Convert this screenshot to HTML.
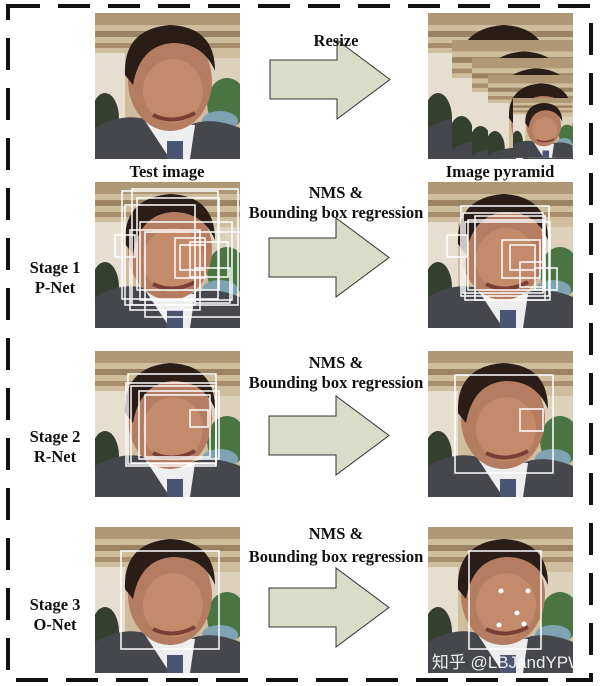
<!DOCTYPE html>
<html><head><meta charset="utf-8"><style>
html,body{margin:0;padding:0;background:#fff}
svg{display:block}
text{font-family:"Liberation Serif",serif;font-weight:bold;font-size:16.5px;fill:#111;text-anchor:middle}
</style></head><body>
<svg width="600" height="686" viewBox="0 0 600 686" xmlns="http://www.w3.org/2000/svg">
<defs>
<clipPath id="pc"><rect x="0" y="0" width="145" height="146"/></clipPath>
<g id="ph">
<g clip-path="url(#pc)">
<rect width="145" height="146" fill="#cfbd9e"/>
<rect width="145" height="12" fill="#b09877"/>
<rect y="18" width="145" height="6" fill="#9a8262"/>
<rect y="30" width="145" height="5" fill="#a88e6c"/>
<rect x="0" y="40" width="30" height="70" fill="#e6dfd0"/>
<rect x="110" y="45" width="35" height="50" fill="#dcd2bc"/>
<ellipse cx="132" cy="90" rx="20" ry="25" fill="#4a7442"/>
<ellipse cx="125" cy="108" rx="18" ry="10" fill="#7fa3b3"/>
<ellipse cx="10" cy="105" rx="14" ry="25" fill="#353f30"/>
<path d="M0 146 L0 115 Q30 98 55 108 L75 146 Z" fill="#45474c"/>
<path d="M145 146 L145 115 Q115 103 95 112 L78 146 Z" fill="#45474c"/>
<path d="M50 108 L75 146 L95 146 L100 112 Z" fill="#eeeeee"/>
<rect x="72" y="128" width="16" height="18" fill="#4b5573"/>
<ellipse cx="75" cy="68" rx="42" ry="50" fill="#b47c60"/>
<ellipse cx="78" cy="78" rx="30" ry="32" fill="#c48a6c"/>
<path d="M30 62 Q28 16 75 12 Q120 14 120 58 Q108 30 78 30 Q45 32 38 72 Z" fill="#2a1d18"/>
<path d="M58 102 Q78 112 100 100" stroke="#7a3e35" stroke-width="4" fill="none"/>
</g>
</g>
<g id="arrow"><path d="M0 20 L67 20 L67 0 L120 39.5 L67 79 L67 59 L0 59 Z" fill="#d9dcc7" stroke="#333" stroke-width="1"/></g>
</defs>
<rect x="8" y="6" width="583" height="674" fill="none" stroke="#111" stroke-width="4" stroke-dasharray="32 18"/>

<!-- row1 -->
<use href="#ph" x="95" y="13"/>
<text x="167" y="177">Test image</text>
<use href="#arrow" x="270" y="40"/>
<text x="336" y="46">Resize</text>
<g>
<svg x="428" y="13" width="145" height="146"><use href="#ph" x="0" y="0"/></svg>
<svg x="452" y="40" width="121" height="118"><use href="#ph" transform="scale(0.95)"/></svg>
<svg x="472" y="58" width="101" height="100"><use href="#ph" transform="scale(0.85)"/></svg>
<svg x="488" y="75" width="85" height="83"><use href="#ph" transform="scale(0.7)"/></svg>
<svg x="513" y="98" width="60" height="60"><use href="#ph" transform="scale(0.41)"/></svg>
</g>
<text x="500" y="177">Image pyramid</text>

<!-- row2 -->
<use href="#ph" x="95" y="182"/>
<g fill="none" stroke="#fff" stroke-width="1.5">
<rect x="122" y="191" width="96" height="108"/><rect x="132" y="189" width="106" height="116"/>
<rect x="137" y="198" width="82" height="92"/><rect x="140" y="222" width="92" height="78"/>
<rect x="130" y="230" width="70" height="80"/><rect x="145" y="232" width="105" height="85"/>
<rect x="115" y="235" width="20" height="22"/><rect x="175" y="238" width="30" height="40"/>
<rect x="180" y="245" width="25" height="25"/><rect x="190" y="242" width="38" height="35"/>
<rect x="195" y="268" width="35" height="35"/><rect x="125" y="205" width="70" height="100"/>
</g>
<text x="336" y="198">NMS &amp;</text>
<text x="336" y="218">Bounding box regression</text>
<use href="#arrow" x="269" y="218"/>
<use href="#ph" x="428" y="182"/>
<g fill="none" stroke="#fff" stroke-width="1.5">
<rect x="461" y="206" width="88" height="90"/><rect x="463" y="213" width="80" height="80"/>
<rect x="468" y="220" width="76" height="70"/><rect x="475" y="216" width="70" height="84"/>
<rect x="447" y="235" width="20" height="22"/><rect x="502" y="240" width="38" height="38"/>
<rect x="510" y="245" width="25" height="25"/><rect x="520" y="262" width="25" height="25"/>
<rect x="535" y="268" width="22" height="22"/><rect x="465" y="222" width="85" height="78"/>
</g>
<text x="55" y="273">Stage 1</text><text x="55" y="293">P-Net</text>

<!-- row3 -->
<use href="#ph" x="95" y="351"/>
<g fill="none" stroke="#fff" stroke-width="1.5">
<rect x="128" y="374" width="88" height="90"/><rect x="126" y="383" width="90" height="83"/>
<rect x="131" y="386" width="85" height="77"/><rect x="139" y="391" width="80" height="68"/>
<rect x="145" y="395" width="65" height="62"/><rect x="190" y="410" width="18" height="17"/>
</g>
<text x="336" y="368">NMS &amp;</text>
<text x="336" y="388">Bounding box regression</text>
<use href="#arrow" x="269" y="396"/>
<use href="#ph" x="428" y="351"/>
<g fill="none" stroke="#fff" stroke-width="1.5">
<rect x="455" y="375" width="98" height="98"/><rect x="520" y="409" width="23" height="22"/>
</g>
<text x="55" y="442">Stage 2</text><text x="55" y="462">R-Net</text>

<!-- row4 -->
<use href="#ph" x="95" y="527"/>
<rect x="121" y="551" width="98" height="98" fill="none" stroke="#fff" stroke-width="1.5"/>
<text x="336" y="539">NMS &amp;</text>
<text x="336" y="562">Bounding box regression</text>
<use href="#arrow" x="269" y="568"/>
<use href="#ph" x="428" y="527"/>
<rect x="469" y="551" width="72" height="98" fill="none" stroke="#fff" stroke-width="1.5"/>
<g fill="#fff"><circle cx="501" cy="591" r="2.5"/><circle cx="528" cy="591" r="2.5"/><circle cx="517" cy="613" r="2.5"/><circle cx="499" cy="625" r="2.5"/><circle cx="524" cy="624" r="2.5"/></g>
<text x="508" y="668" style="font-family:'Liberation Sans','Noto Sans CJK SC',sans-serif;font-weight:normal;font-size:17px;fill:#fff;opacity:0.9">知乎 @LBJandYPW</text>
<text x="55" y="610">Stage 3</text><text x="55" y="630">O-Net</text>
</svg>
</body></html>
